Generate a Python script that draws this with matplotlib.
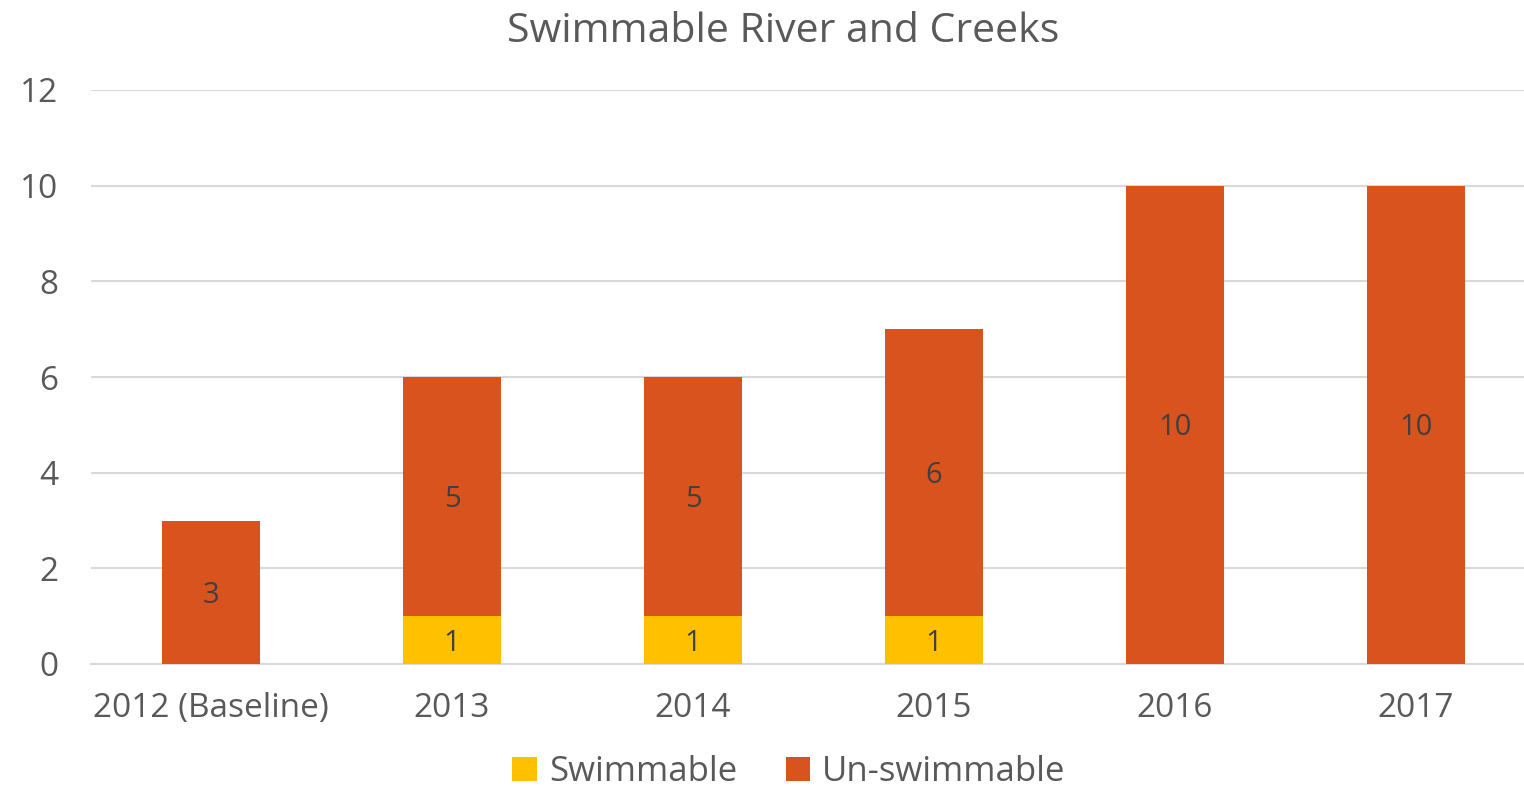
import matplotlib
matplotlib.use("Agg")
import matplotlib.pyplot as plt
from matplotlib.transforms import offset_copy

categories = ["2012 (Baseline)", "2013", "2014", "2015", "2016", "2017"]
swimmable = [0, 1, 1, 1, 0, 0]
unswimmable = [3, 5, 5, 6, 10, 10]
yticks = [0, 2, 4, 6, 8, 10, 12]

plt.rcParams['font.family'] = ['Open Sans', 'DejaVu Sans']
TXT = "#595959"
YEL = "#FFC000"
ORG = "#D9531E"

W, H = 1524, 790
fig = plt.figure(figsize=(W / 100, H / 100), dpi=100)
left_px, right_px, bottom_px, top_px = 90.5, 1524, 664, 90
ax = fig.add_axes([left_px / W, 1 - bottom_px / H, (right_px - left_px) / W, (bottom_px - top_px) / H])

x = list(range(len(categories)))
step = 241.0
xmax = -0.5 + (right_px - left_px) / step
bw = 98 / step

b1 = ax.bar(x, swimmable, width=bw, color=YEL, label="Swimmable", zorder=3)
b2 = ax.bar(x, unswimmable, width=bw, bottom=swimmable, color=ORG, label="Un-swimmable", zorder=3)

tr = offset_copy(ax.transData, fig=fig, x=0, y=-3, units="dots")
for i in x:
    if swimmable[i]:
        ax.text(i, swimmable[i] / 2, str(swimmable[i]), ha="center", va="center",
                fontsize=21, color="#404040", zorder=4, transform=tr)
    if unswimmable[i]:
        ax.text(i, swimmable[i] + unswimmable[i] / 2, str(unswimmable[i]), ha="center", va="center",
                fontsize=21, color="#404040", zorder=4, transform=tr)

ax.set_xlim(-0.5, xmax)
ax.set_ylim(0, 12)
ax.set_yticks(yticks)
ax.set_yticklabels([str(v) for v in yticks])
ax.set_xticks(x)
ax.set_xticklabels(categories)
ax.yaxis.grid(True, color="#D9D9D9", linewidth=1.5, zorder=0)
ax.set_axisbelow(True)
for s in ["top", "right", "left"]:
    ax.spines[s].set_visible(False)
ax.spines["bottom"].set_color("#D9D9D9")
ax.spines["bottom"].set_linewidth(1.5)
ax.tick_params(axis="both", length=0, labelsize=24, colors=TXT)
ax.tick_params(axis="y", pad=23)
ax.tick_params(axis="x", pad=20)

fig.text(783 / W, 1 - 32 / H, "Swimmable River and Creeks", ha="center", va="center",
         fontsize=29.5, color=TXT)

fig.legend(handles=[b1, b2], loc="center", bbox_to_anchor=(789 / W, 1 - 772 / H), ncol=2,
           frameon=False, fontsize=25, labelcolor=TXT, handlelength=0.7, handleheight=0.7,
           handletextpad=0.35, columnspacing=1.4, borderpad=0.1)

fig.savefig("out.png", dpi=100)
